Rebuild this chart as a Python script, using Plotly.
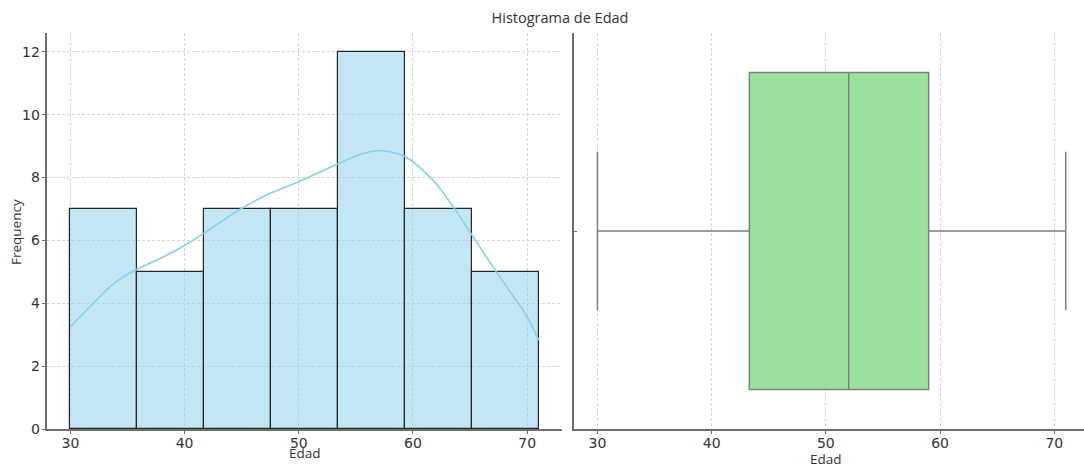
import numpy as np
import plotly.graph_objects as go

# ---- data ----
bin_edges = [30.0, 35.857, 41.714, 47.571, 53.429, 59.286, 65.143, 71.0]
counts = [7, 5, 7, 7, 12, 7, 5]

kde_x = [30, 32.0, 33.5, 35.0, 36.5, 38, 40, 41.7, 44.9, 47.5, 50, 53.5, 55.5, 57.1,
         59.3, 61.8, 63.7, 65.1, 67.3, 70, 71]
kde_y = [3.25, 4.0, 4.54, 4.92, 5.2, 5.45, 5.84, 6.23, 7.0, 7.5, 7.87, 8.45, 8.75,
         8.86, 8.67, 7.9, 6.98, 6.21, 5.0, 3.57, 2.83]

box_min, box_q1, box_median, box_q3, box_max = 30, 43.3, 52, 59, 71

x_ticks = [30, 40, 50, 60, 70]
y_ticks = [0, 2, 4, 6, 8, 10, 12]

W, H = 1084, 466
def fx(px):
    return px / W
def fy(py):
    return 1 - py / H

centers = [(a + b) / 2 for a, b in zip(bin_edges[:-1], bin_edges[1:])]
widths = [b - a for a, b in zip(bin_edges[:-1], bin_edges[1:])]

fig = go.Figure()
fig.add_trace(go.Bar(
    x=centers, y=counts, width=widths,
    marker=dict(color="rgba(135,206,235,0.5)", line=dict(color="#262626", width=1.2)),
    xaxis="x", yaxis="y", showlegend=False, hoverinfo="skip"))
fig.add_trace(go.Scatter(
    x=kde_x, y=kde_y, mode="lines",
    line=dict(color="#87CEEB", width=1.6, shape="spline", smoothing=0.8),
    xaxis="x", yaxis="y", showlegend=False))
fig.add_trace(go.Box(
    q1=[box_q1], median=[box_median], q3=[box_q3],
    lowerfence=[box_min], upperfence=[box_max], y=[0],
    orientation="h", width=0.8, whiskerwidth=0.5,
    fillcolor="rgba(145,223,145,0.9)",
    line=dict(color="#7f7f7f", width=1.5),
    xaxis="x2", yaxis="y2", showlegend=False, boxpoints=False))

tickfont = dict(family="DejaVu Sans", size=14, color="#333333")
labfont = dict(family="Open Sans", size=13.5, color="#333333")
axcol = "#6e6e6e"
gridcol = "#d6d6d6"
dash = "3px,2px"
ytop, ybot = fy(33), fy(429)

common_x = dict(tickvals=x_ticks, ticks="outside", ticklen=3.5, tickcolor=axcol,
                showline=True, linecolor=axcol, linewidth=1.5,
                showgrid=True, gridcolor=gridcol, griddash=dash, gridwidth=0.8,
                zeroline=False, tickfont=tickfont, automargin=False,
                ticklabelstandoff=-3)

fig.update_layout(
    width=W, height=H,
    margin=dict(l=0, r=0, t=0, b=0),
    paper_bgcolor="white", plot_bgcolor="white",
    title=dict(text="Histograma de Edad", x=560 / W, xanchor="center",
               y=1 - 18 / H, yanchor="middle",
               font=dict(family="Open Sans", size=14.5, color="#333333")),
    bargap=0,
    xaxis=dict(domain=[fx(47), fx(562)], range=[27.95, 73.05], anchor="y", **common_x),
    yaxis=dict(domain=[ybot, ytop], range=[0, 12.6],
               tickvals=y_ticks, ticks="outside", ticklen=3.5, tickcolor=axcol,
               showline=True, linecolor=axcol, linewidth=1.5,
               showgrid=True, gridcolor=gridcol, griddash=dash, gridwidth=0.8,
               zeroline=False, tickfont=tickfont, anchor="x", automargin=False,
               ticklabelstandoff=-1),
    xaxis2=dict(domain=[fx(574), 1.0], range=[27.95, 72.6], anchor="y2", **common_x),
    yaxis2=dict(domain=[ybot, ytop], range=[0.5, -0.5],
                tickvals=[0], ticks="inside", ticklen=3, tickcolor=axcol,
                showticklabels=False, automargin=False,
                showline=True, linecolor=axcol, linewidth=1.5,
                showgrid=False, zeroline=False, anchor="x2"),
    annotations=[
        dict(text="Edad", xref="paper", yref="paper", x=fx(304.5), y=fy(453),
             xanchor="center", yanchor="middle", showarrow=False, font=labfont),
        dict(text="Edad", xref="paper", yref="paper", x=fx(826), y=fy(459),
             xanchor="center", yanchor="middle", showarrow=False, font=labfont),
        dict(text="Frequency", xref="paper", yref="paper", x=fx(16), y=fy(232),
             xanchor="center", yanchor="middle", showarrow=False, textangle=-90,
             font=labfont),
    ],
)

fig.write_html("out.html", config={"displayModeBar": False},
               post_script="document.body.style.margin='0';document.body.style.padding='0';")
